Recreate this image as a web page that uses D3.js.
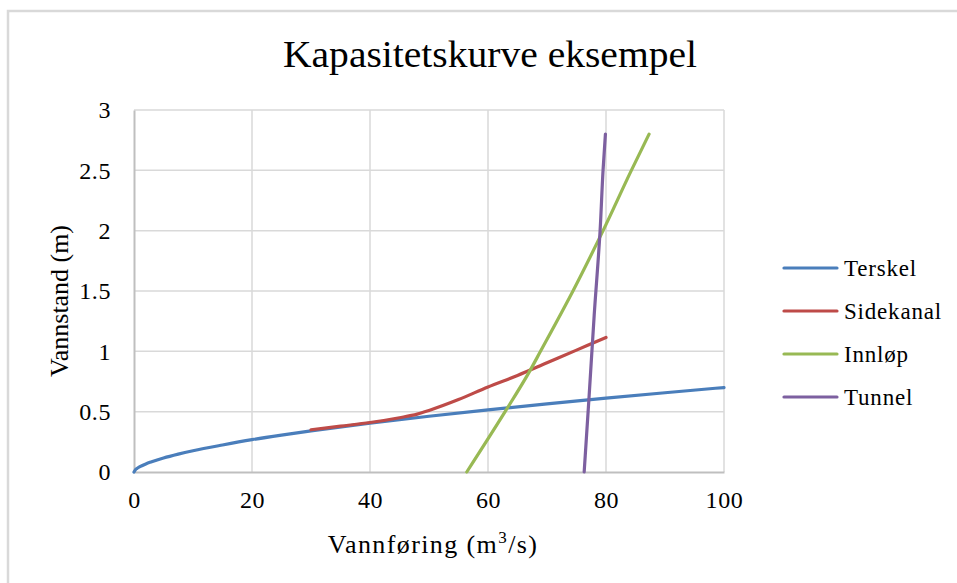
<!DOCTYPE html>
<html>
<head>
<meta charset="utf-8">
<script src="https://cdn.jsdelivr.net/npm/d3@7"></script>
<style>
  html, body { margin: 0; padding: 0; background: #fff; }
  svg { display: block; }
  text { font-family: "Liberation Serif", "DejaVu Serif", serif; fill: #000; }
</style>
</head>
<body>
<svg id="chart" width="957" height="583"></svg>
<script>
// Capacity curves: water level (m) against discharge (m³/s)
const seriesNames = ["Terskel", "Sidekanal", "Innløp", "Tunnel"];
const seriesColors = ["#4a7ebb", "#be4b48", "#98b954", "#7d60a0"];

// Terskel (weir)
const terskelQ = [0, 0.25, 0.5, 1, 2, 3, 5, 7.5, 10, 15, 20, 25, 30, 40, 50, 60, 70, 80, 90, 100];
const terskelH = [0, 0.019, 0.029, 0.044, 0.067, 0.085, 0.116, 0.148, 0.176, 0.224, 0.268, 0.306, 0.341, 0.405, 0.462, 0.515, 0.565, 0.612, 0.657, 0.70];

// Sidekanal (side channel)
const sidekanalQ = [30, 35, 40, 45, 48, 50, 55, 60, 65, 70, 75, 80];
const sidekanalH = [0.35, 0.38, 0.41, 0.45, 0.48, 0.51, 0.60, 0.705, 0.80, 0.905, 1.01, 1.115];

// Innløp (intake)
const innlopQ = [56.4, 62.9, 67.0, 68.9, 74.4, 79.5, 84.3, 87.3];
const innlopH = [0, 0.5, 0.83, 1.0, 1.5, 2.0, 2.5, 2.8];

// Tunnel
const tunnelQ = [76.3, 77.1, 78.0, 79.0, 79.5, 79.9];
const tunnelH = [0, 0.6, 1.3, 2.0, 2.5, 2.8];

const xTicks = [0, 20, 40, 60, 80, 100];
const yTicks = [0, 0.5, 1, 1.5, 2, 2.5, 3];

const svg = d3.select("#chart");

// outer chart frame
svg.append("rect")
  .attr("x", 8).attr("y", 11)
  .attr("width", 960).attr("height", 590)
  .attr("fill", "#fff")
  .attr("stroke", "#d9d9d9").attr("stroke-width", 2.5);

const plot = { left: 134, right: 724, top: 110, bottom: 472 };

const x = d3.scaleLinear().domain([0, 100]).range([plot.left, plot.right]);
const y = d3.scaleLinear().domain([0, 3]).range([plot.bottom, plot.top]);

// gridlines
const grid = svg.append("g");
grid.selectAll(".gx").data(xTicks.slice(1)).join("line")
  .attr("x1", d => x(d)).attr("x2", d => x(d))
  .attr("y1", plot.top).attr("y2", plot.bottom)
  .attr("stroke", "#d9d9d9").attr("stroke-width", 1.5);
grid.selectAll(".gy").data(yTicks.slice(1)).join("line")
  .attr("x1", plot.left).attr("x2", plot.right)
  .attr("y1", d => y(d)).attr("y2", d => y(d))
  .attr("stroke", "#d9d9d9").attr("stroke-width", 1.5);

// axes
const xAxis = svg.append("g")
  .attr("transform", `translate(0,${plot.bottom})`)
  .call(d3.axisBottom(x).tickValues(xTicks).tickSize(0).tickPadding(19).tickFormat(d3.format("d")));
const yAxis = svg.append("g")
  .attr("transform", `translate(${plot.left},0)`)
  .call(d3.axisLeft(y).tickValues(yTicks).tickSize(0).tickPadding(23).tickFormat(d => String(d)));
[xAxis, yAxis].forEach(a => {
  a.attr("font-size", 24).attr("font-family", "Liberation Serif, serif");
  a.select(".domain").attr("stroke", "#bfbfbf").attr("stroke-width", 2);
  a.selectAll("text").attr("font-size", 24).style("letter-spacing", "0.6px");
});

// series lines
const data = [
  terskelQ.map((q, i) => ({ q, h: terskelH[i] })),
  sidekanalQ.map((q, i) => ({ q, h: sidekanalH[i] })),
  innlopQ.map((q, i) => ({ q, h: innlopH[i] })),
  tunnelQ.map((q, i) => ({ q, h: tunnelH[i] }))
];
const curves = [d3.curveMonotoneX, d3.curveMonotoneX, d3.curveMonotoneY, d3.curveMonotoneY];

data.forEach((pts, i) => {
  const line = d3.line().x(d => x(d.q)).y(d => y(d.h)).curve(curves[i]);
  svg.append("path")
    .datum(pts)
    .attr("d", line)
    .attr("fill", "none")
    .attr("stroke", seriesColors[i])
    .attr("stroke-width", 3.2)
    .attr("stroke-linecap", "round")
    .attr("stroke-linejoin", "round");
});

// title
svg.append("text")
  .attr("x", 490).attr("y", 67)
  .attr("text-anchor", "middle")
  .attr("font-size", 38)
  .attr("textLength", 414).attr("lengthAdjust", "spacingAndGlyphs")
  .text("Kapasitetskurve eksempel");

// axis titles
svg.append("text")
  .attr("transform", "translate(68,301) rotate(-90)")
  .attr("text-anchor", "middle")
  .attr("font-size", 25)
  .attr("textLength", 152).attr("lengthAdjust", "spacingAndGlyphs")
  .text("Vannstand (m)");

const xt = svg.append("text")
  .attr("x", 433).attr("y", 553)
  .attr("text-anchor", "middle")
  .attr("font-size", 26)
  .style("letter-spacing", "1.4px");
xt.append("tspan").text("Vannføring (m");
xt.append("tspan").attr("font-size", 17).attr("dy", -10).text("3");
xt.append("tspan").attr("dy", 10).text("/s)");

// legend
const legend = svg.append("g");
const legY = [268, 311, 354, 397];
seriesNames.forEach((name, i) => {
  legend.append("line")
    .attr("x1", 784).attr("x2", 837)
    .attr("y1", legY[i]).attr("y2", legY[i])
    .attr("stroke", seriesColors[i])
    .attr("stroke-width", 3.2)
    .attr("stroke-linecap", "round");
  legend.append("text")
    .attr("x", 844).attr("y", legY[i] + 8)
    .attr("font-size", 23)
    .style("letter-spacing", "0.8px")
    .text(name);
});
</script>
</body>
</html>
